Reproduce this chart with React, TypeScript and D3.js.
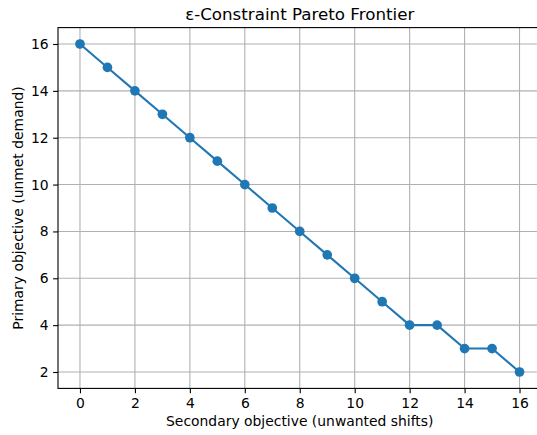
import React, { useRef, useEffect } from "react";
import * as d3 from "d3";

// unwanted shifts (secondary) vs unmet demand (primary)
const secondary = [0, 1, 2, 3, 4, 5, 6, 7, 8, 9, 10, 11, 12, 13, 14, 15, 16];
const primary = [16, 15, 14, 13, 12, 11, 10, 9, 8, 7, 6, 5, 4, 4, 3, 3, 2];
const xTicks = [0, 2, 4, 6, 8, 10, 12, 14, 16];
const yTicks = [2, 4, 6, 8, 10, 12, 14, 16];

const App = () => {
  const svgRef = useRef<SVGSVGElement>(null);

  useEffect(() => {
    const W = 537;
    const H = 435;
    const margin = { top: 27.6, right: -4.5, bottom: 46.6, left: 58 };
    const width = W - margin.left - margin.right;
    const height = H - margin.top - margin.bottom;
    const font = "DejaVu Sans, sans-serif";
    const color = "#1f77b4";

    const svg = d3.select(svgRef.current);
    svg.selectAll("*").remove();
    svg.attr("width", W).attr("height", H);

    svg.append("rect").attr("width", W).attr("height", H).attr("fill", "#fff");

    const g = svg.append("g").attr("transform", `translate(${margin.left},${margin.top})`);

    const data = secondary.map((s, i) => ({ x: s, y: primary[i] }));

    const x = d3.scaleLinear().domain([-0.8, 16.8]).range([0, width]);
    const y = d3.scaleLinear().domain([1.3, 16.7]).range([height, 0]);

    // grid
    g.append("g")
      .selectAll("line")
      .data(xTicks)
      .enter()
      .append("line")
      .attr("x1", (d) => x(d))
      .attr("x2", (d) => x(d))
      .attr("y1", 0)
      .attr("y2", height)
      .attr("stroke", "#b0b0b0")
      .attr("stroke-width", 1.1);
    g.append("g")
      .selectAll("line")
      .data(yTicks)
      .enter()
      .append("line")
      .attr("x1", 0)
      .attr("x2", width)
      .attr("y1", (d) => y(d))
      .attr("y2", (d) => y(d))
      .attr("stroke", "#b0b0b0")
      .attr("stroke-width", 1.1);

    // axes
    const xAxis = g
      .append("g")
      .attr("transform", `translate(0,${height})`)
      .call(d3.axisBottom(x).tickValues(xTicks).tickSize(4.9).tickPadding(4.4).tickSizeOuter(0));
    const yAxis = g
      .append("g")
      .call(d3.axisLeft(y).tickValues(yTicks).tickSize(4.9).tickPadding(4.4).tickSizeOuter(0));

    [xAxis, yAxis].forEach((a) => {
      a.select(".domain").remove();
      a.selectAll(".tick line").attr("stroke", "#000").attr("stroke-width", 1.1);
      a.selectAll(".tick text")
        .attr("fill", "#000")
        .style("font-family", font)
        .style("font-size", "13.9px");
    });

    // spines
    g.append("rect")
      .attr("width", width)
      .attr("height", height)
      .attr("fill", "none")
      .attr("stroke", "#000")
      .attr("stroke-width", 1.1);

    // frontier line + markers
    const line = d3
      .line<{ x: number; y: number }>()
      .x((d) => x(d.x))
      .y((d) => y(d.y));

    g.append("path")
      .datum(data)
      .attr("d", line)
      .attr("fill", "none")
      .attr("stroke", color)
      .attr("stroke-width", 2.1);

    g.selectAll(".pt")
      .data(data)
      .enter()
      .append("circle")
      .attr("class", "pt")
      .attr("cx", (d) => x(d.x))
      .attr("cy", (d) => y(d.y))
      .attr("r", 4.85)
      .attr("fill", color);

    // labels
    svg
      .append("text")
      .attr("x", margin.left + width / 2)
      .attr("y", 20)
      .attr("text-anchor", "middle")
      .style("font-family", font)
      .style("font-size", "16.7px")
      .text("ε-Constraint Pareto Frontier");

    svg
      .append("text")
      .attr("x", margin.left + width / 2)
      .attr("y", 426)
      .attr("text-anchor", "middle")
      .style("font-family", font)
      .style("font-size", "13.9px")
      .text("Secondary objective (unwanted shifts)");

    svg
      .append("text")
      .attr("transform", `translate(23,${margin.top + height / 2}) rotate(-90)`)
      .attr("text-anchor", "middle")
      .style("font-family", font)
      .style("font-size", "13.9px")
      .text("Primary objective (unmet demand)");
  }, []);

  return <svg ref={svgRef} style={{ position: "absolute", left: 0, top: 0 }}></svg>;
};

export default App;
